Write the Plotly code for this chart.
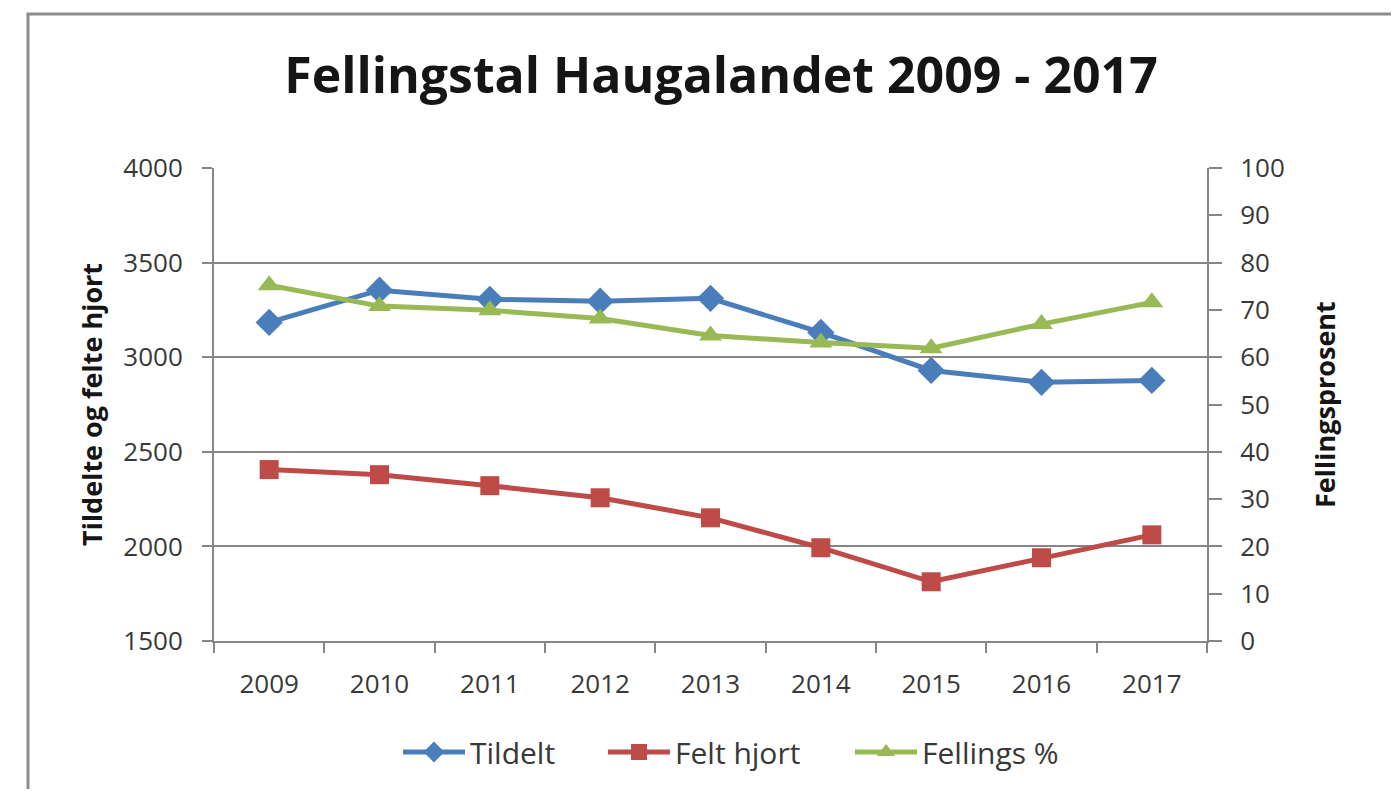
import plotly.graph_objects as go

years = ["2009", "2010", "2011", "2012", "2013", "2014", "2015", "2016", "2017"]
tildelt = [3184, 3354, 3306, 3296, 3311, 3131, 2930, 2867, 2877]
felt_hjort = [2406, 2379, 2321, 2257, 2151, 1993, 1813, 1940, 2061]
fellings_pct = [75.2, 70.8, 69.9, 68.2, 64.6, 63.1, 61.9, 67.0, 71.6]

FONT = "Open Sans"
TXT = "#383838"
AX = "#868686"

# figure is drawn inside an 8px page margin
W, H = 1383, 781
L, R, T, B = 206, 1199, 160, 633
PW, PH = R - L, B - T


def px(x):
    return (x - L) / PW


def py(y):
    return (B - y) / PH


fig = go.Figure()
fig.add_trace(go.Scatter(x=years, y=tildelt, name="Tildelt", mode="lines+markers",
                         legend="legend",
                         line=dict(color="#4A7EBB", width=5),
                         marker=dict(symbol="diamond", size=21, color="#4A7EBB")))
fig.add_trace(go.Scatter(x=years, y=felt_hjort, name="Felt hjort", mode="lines+markers",
                         legend="legend2",
                         line=dict(color="#BE4B48", width=5),
                         marker=dict(symbol="square", size=19, color="#BE4B48")))
fig.add_trace(go.Scatter(x=years, y=fellings_pct, name="Fellings %", mode="lines+markers",
                         yaxis="y2", legend="legend3",
                         line=dict(color="#98B954", width=5),
                         marker=dict(symbol="triangle-up", size=20, color="#98B954")))

leg_common = dict(orientation="h", xanchor="left", yanchor="middle", y=py(744),
                  font=dict(size=30, color=TXT), itemwidth=62,
                  bgcolor="rgba(0,0,0,0)")

fig.update_layout(
    width=W, height=H,
    margin=dict(l=L, r=W - R, t=T, b=H - B, autoexpand=False),
    paper_bgcolor="white", plot_bgcolor="white",
    font=dict(family=FONT, color=TXT),
    title=dict(text="<b>Fellingstal Haugalandet 2009 - 2017</b>",
               x=713 / W, xanchor="center", y=1 - 67 / H, yanchor="middle",
               font=dict(family=FONT, size=50, color="#151515")),
    xaxis=dict(type="category", range=[-0.5, 8.5], tickson="boundaries",
               ticks="outside", ticklen=10, tickcolor=AX, tickwidth=2,
               showline=True, linecolor=AX, linewidth=2, showgrid=False,
               ticklabelstandoff=19,
               tickfont=dict(size=26, color=TXT), zeroline=False),
    yaxis=dict(range=[1500, 4000], dtick=500, tick0=1500,
               ticks="outside", ticklen=10, tickcolor=AX, tickwidth=2,
               showline=True, linecolor=AX, linewidth=2,
               showgrid=True, gridcolor=AX, gridwidth=2, zeroline=False,
               ticklabelstandoff=14,
               tickfont=dict(size=26, color=TXT)),
    yaxis2=dict(range=[0, 100], dtick=10, overlaying="y", side="right",
                ticks="outside", ticklen=13, tickcolor=AX, tickwidth=2,
                showline=True, linecolor=AX, linewidth=2,
                showgrid=False, zeroline=False,
                ticklabelstandoff=13,
                tickfont=dict(size=26, color=TXT)),
    legend=dict(leg_common, x=px(390)),
    legend2=dict(leg_common, x=px(595)),
    legend3=dict(leg_common, x=px(842)),
    showlegend=True,
)

fig.add_annotation(text="<b>Tildelte og felte hjort</b>", textangle=-90,
                   xref="paper", yref="paper", x=px(83), y=py(397),
                   xanchor="center", yanchor="middle", showarrow=False,
                   font=dict(family=FONT, size=27, color="#151515"))
fig.add_annotation(text="<b>Fellingsprosent</b>", textangle=-90,
                   xref="paper", yref="paper", x=px(1316), y=py(397),
                   xanchor="center", yanchor="middle", showarrow=False,
                   font=dict(family=FONT, size=27, color="#151515"))

fig.add_shape(type="rect", xref="paper", yref="paper",
              x0=px(20), x1=px(W + 40), y0=py(H + 40), y1=py(6),
              line=dict(color="#8C8C8C", width=3), fillcolor="rgba(0,0,0,0)", layer="below")

fig.write_html("out.html")
